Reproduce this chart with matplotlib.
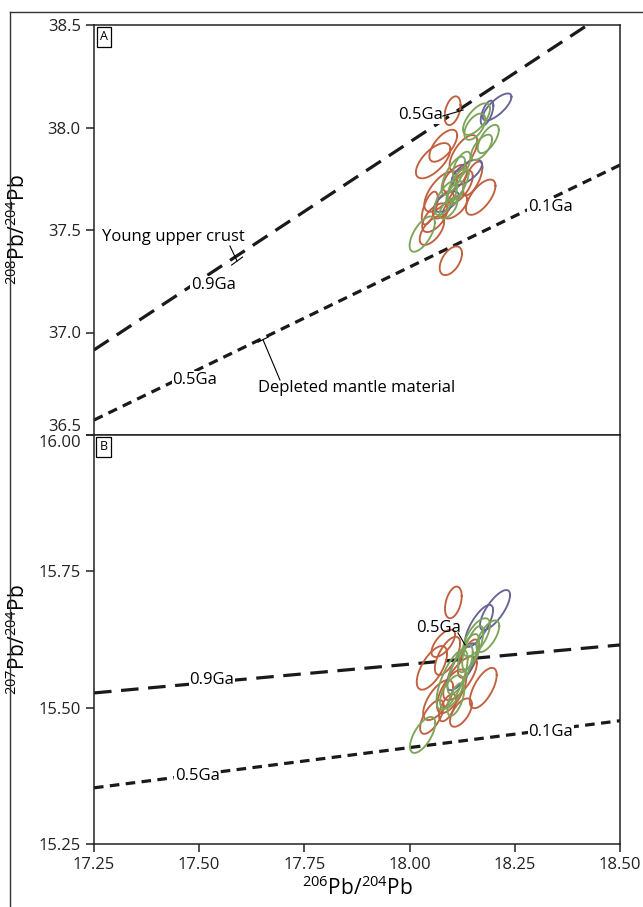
"""
Pb isotope plot - 208/204 and 207/204 vs 206/204 with error ellipses
"""
import numpy as np
import matplotlib
matplotlib.use('Agg')
import matplotlib.pyplot as plt
from matplotlib.lines import Line2D

plt.rcParams['font.family'] = ['Open Sans', 'DejaVu Sans']
plt.rcParams['mathtext.fontset'] = 'custom'
plt.rcParams['mathtext.rm'] = 'Open Sans'

RED = '#c1603f'
GREEN = '#7da55a'
BLUE = '#686496'

# 颜色代码
col_map = {'r': RED, 'g': GREEN, 'b': BLUE}

# 上图: 208Pb/204Pb 误差椭圆 (中心, 误差, 相关系数)
top_x = [18.102, 18.056, 18.080, 18.128, 18.074, 18.169, 18.053, 18.098, 18.108, 18.150,
         18.080, 18.108, 18.048, 18.120, 18.060,
         18.208, 18.184, 18.136, 18.088,
         18.159, 18.155, 18.187, 18.171, 18.030, 18.104, 18.108, 18.086, 18.124, 18.092, 18.115]
top_y = [38.082, 37.838, 37.911, 37.874, 37.687, 37.660, 37.497, 37.350, 37.752, 37.752,
         37.622, 37.614, 37.607, 37.710, 37.560,
         38.100, 38.071, 37.781, 37.638,
         38.041, 38.004, 37.944, 37.903, 37.480, 37.765, 37.679, 37.655, 37.817, 37.606, 37.720]
top_sx = [0.0190, 0.0410, 0.0330, 0.0330, 0.0390, 0.0350, 0.0290, 0.0265, 0.0290, 0.0230,
          0.0250, 0.0290, 0.0190, 0.0300, 0.0300,
          0.0340, 0.0150, 0.0360, 0.0290,
          0.0320, 0.0250, 0.0250, 0.0250, 0.0300, 0.0280, 0.0210, 0.0265, 0.0210, 0.0210, 0.0250]
top_sy = [0.0700, 0.0860, 0.0780, 0.0890, 0.0980, 0.0860, 0.0700, 0.0700, 0.0660, 0.0820,
          0.0660, 0.0580, 0.0800, 0.0800, 0.0700,
          0.0660, 0.0600, 0.0620, 0.0500,
          0.0770, 0.0640, 0.0690, 0.0620, 0.0860, 0.0930, 0.0580, 0.0820, 0.0650, 0.0500, 0.0800]
top_rho = [0.4, 0.65, 0.65, 0.65, 0.65, 0.65, 0.6, 0.5, 0.6, 0.65,
           0.6, 0.6, 0.6, 0.65, 0.6,
           0.75, 0.6, 0.65, 0.6,
           0.65, 0.55, 0.65, 0.65, 0.65, 0.7, 0.6, 0.65, 0.6, 0.6, 0.7]
top_c = ['r'] * 15 + ['b'] * 4 + ['g'] * 11

# 下图: 207Pb/204Pb 误差椭圆
bot_x = [18.104, 18.080, 18.053, 18.175, 18.068, 18.120, 18.122, 18.053, 18.090, 18.140,
         18.090, 18.100,
         18.203, 18.165, 18.125,
         18.159, 18.186, 18.101, 18.100, 18.031, 18.140, 18.120, 18.150, 18.110]
bot_y = [15.693, 15.618, 15.573, 15.536, 15.514, 15.554, 15.491, 15.483, 15.500, 15.590,
         15.595, 15.530,
         15.679, 15.650, 15.575,
         15.629, 15.631, 15.551, 15.529, 15.450, 15.600, 15.570, 15.610, 15.515]
bot_sx = [0.0198, 0.0280, 0.0360, 0.0320, 0.0357, 0.0400, 0.0260, 0.0280, 0.0200, 0.0250,
          0.0300, 0.0350,
          0.0357, 0.0333, 0.0360,
          0.0320, 0.0270, 0.0370, 0.0277, 0.0300, 0.0250, 0.0300, 0.0250, 0.0200]
bot_sy = [0.0290, 0.0250, 0.0400, 0.0370, 0.0367, 0.0400, 0.0260, 0.0310, 0.0250, 0.0350,
          0.0350, 0.0400,
          0.0367, 0.0385, 0.0430,
          0.0350, 0.0290, 0.0550, 0.0306, 0.0330, 0.0350, 0.0450, 0.0400, 0.0300]
bot_rho = [0.4, 0.65, 0.65, 0.65, 0.65, 0.7, 0.6, 0.65, 0.6, 0.65,
           0.65, 0.65,
           0.75, 0.75, 0.75,
           0.65, 0.65, 0.7, 0.6, 0.65, 0.65, 0.7, 0.7, 0.6]
bot_c = ['r'] * 12 + ['b'] * 3 + ['g'] * 9

# 铅演化线
crust_x = [17.25, 18.5]
crust_top = [36.915, 38.604]
crust_bot = [15.527, 15.615]
mantle_x = [17.25, 18.5]
mantle_top = [36.573, 37.817]
mantle_bot = [15.353, 15.476]


def ellipse(ax, cx, cy, sx, sy, rho, color):
    t = np.linspace(0, 2 * np.pi, 120)
    phi = np.arccos(rho)
    ex = cx + sx * np.cos(t)
    ey = cy + sy * np.cos(t - phi)
    ax.plot(ex, ey, color=color, linewidth=1.35, zorder=3)


fig = plt.figure(figsize=(6.43, 9.07), dpi=100)
L, R = 94 / 643, 620 / 643
ax1 = fig.add_axes([L, 1 - 435 / 907, R - L, 410 / 907])
ax2 = fig.add_axes([L, 1 - 844 / 907, R - L, 409 / 907])

# 外框
fig.add_artist(Line2D([10 / 643, 1.0], [1 - 12 / 907, 1 - 12 / 907], color='#333333', lw=1.0))
fig.add_artist(Line2D([10 / 643, 10 / 643], [0, 1 - 12 / 907], color='#333333', lw=1.0))

lab_box = dict(facecolor='white', edgecolor='none', pad=0.5)
fs = 12

# ---- 上图 ----
ax1.plot(crust_x, crust_top, color='#1a1a1a', lw=2.3, linestyle=(0, (5.5, 3)), zorder=2)
ax1.plot(mantle_x, mantle_top, color='#1a1a1a', lw=2.3, linestyle=(0, (3, 2)), zorder=2)
for i in range(len(top_x)):
    ellipse(ax1, top_x[i], top_y[i], top_sx[i], top_sy[i], top_rho[i], col_map[top_c[i]])

ax1.text(18.027, 38.061, '0.5Ga', fontsize=fs, ha='center', va='center', bbox=lab_box, zorder=4)
ax1.plot([18.079, 18.127], [38.056, 38.085], color='black', lw=0.8, zorder=4)
ax1.text(17.533, 37.232, '0.9Ga', fontsize=fs, ha='center', va='center', bbox=lab_box, zorder=4)
ax1.text(17.269, 37.466, 'Young upper crust', fontsize=fs, ha='left', va='center', zorder=4)
ax1.plot([17.573, 17.590], [37.422, 37.349], color='black', lw=0.8, zorder=4)
ax1.plot([17.577, 17.603], [37.329, 37.368], color='black', lw=0.8, zorder=4)
ax1.text(17.490, 36.768, '0.5Ga', fontsize=fs, ha='center', va='center', bbox=lab_box, zorder=4)
ax1.text(17.640, 36.729, 'Depleted mantle material', fontsize=fs, ha='left', va='center', zorder=4)
ax1.plot([17.652, 17.692], [36.963, 36.768], color='black', lw=0.8, zorder=4)
ax1.plot([17.640, 17.664], [36.953, 36.978], color='black', lw=0.8, zorder=4)
ax1.text(18.334, 37.612, '0.1Ga', fontsize=fs, ha='center', va='center', bbox=lab_box, zorder=4)

ax1.set_xlim(17.25, 18.5)
ax1.set_ylim(36.5, 38.5)
ax1.set_yticks([36.5, 37.0, 37.5, 38.0, 38.5])
ax1.set_yticklabels(['36.5', '37.0', '37.5', '38.0', '38.5'])
ax1.set_xticks([])
ax1.set_ylabel('$^{208}$Pb/$^{204}$Pb', fontsize=15)
ax1.yaxis.set_label_coords(-0.122, 0.5)
ax1.text(0.019, 0.971, 'A', transform=ax1.transAxes, fontsize=9, ha='center', va='center',
         bbox=dict(facecolor='white', edgecolor='black', lw=0.9, pad=2.5))

# ---- 下图 ----
ax2.plot(crust_x, crust_bot, color='#1a1a1a', lw=2.3, linestyle=(0, (5.5, 3)), zorder=2)
ax2.plot(mantle_x, mantle_bot, color='#1a1a1a', lw=2.3, linestyle=(0, (3, 2)), zorder=2)
for i in range(len(bot_x)):
    ellipse(ax2, bot_x[i], bot_y[i], bot_sx[i], bot_sy[i], bot_rho[i], col_map[bot_c[i]])

ax2.text(18.068, 15.646, '0.5Ga', fontsize=fs, ha='center', va='center', zorder=4)
ax2.plot([18.115, 18.132], [15.637, 15.615], color='black', lw=0.8, zorder=4)
ax2.text(17.530, 15.551, '0.9Ga', fontsize=fs, ha='center', va='center', bbox=lab_box, zorder=4)
ax2.text(17.495, 15.375, '0.5Ga', fontsize=fs, ha='center', va='center', bbox=lab_box, zorder=4)
ax2.text(18.336, 15.455, '0.1Ga', fontsize=fs, ha='center', va='center', bbox=lab_box, zorder=4)

ax2.set_xlim(17.25, 18.5)
ax2.set_ylim(15.25, 16.0)
ax2.set_yticks([15.25, 15.5, 15.75, 16.0])
ax2.set_yticklabels(['15.25', '15.50', '15.75', '16.00'])
ax2.set_xticks([17.25, 17.5, 17.75, 18.0, 18.25, 18.5])
ax2.set_xticklabels(['17.25', '17.50', '17.75', '18.00', '18.25', '18.50'])
ax2.set_ylabel('$^{207}$Pb/$^{204}$Pb', fontsize=15)
ax2.yaxis.set_label_coords(-0.122, 0.5)
ax2.set_xlabel('$^{206}$Pb/$^{204}$Pb', fontsize=15, labelpad=2)
ax2.text(0.019, 0.971, 'B', transform=ax2.transAxes, fontsize=9, ha='center', va='center',
         bbox=dict(facecolor='white', edgecolor='black', lw=0.9, pad=2.5))

for ax in (ax1, ax2):
    for sp in ax.spines.values():
        sp.set_linewidth(1.1)
        sp.set_color('#222222')
    ax.tick_params(direction='out', length=6, width=1.1, labelsize=12, colors='#222222')
    ax.grid(False)

# 边界处标签错开
ax1.get_yticklabels()[0].set_verticalalignment('bottom')
ax2.get_yticklabels()[-1].set_verticalalignment('top')

fig.savefig('out.png', dpi=100)
